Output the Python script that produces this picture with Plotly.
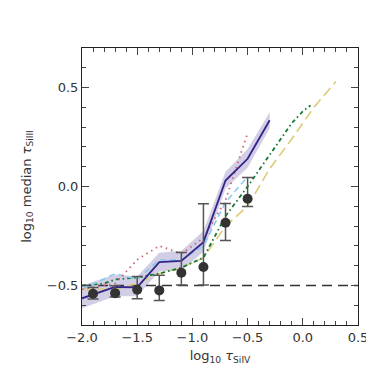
import plotly.graph_objects as go

# Data points with error bars
pts_x = [-1.9, -1.7, -1.5, -1.3, -1.1, -0.9, -0.7, -0.5]
pts_y = [-0.542, -0.539, -0.522, -0.525, -0.436, -0.407, -0.183, -0.062]
pts_hi = [-0.510, -0.502, -0.455, -0.449, -0.333, -0.087, -0.086, 0.045]
pts_lo = [-0.569, -0.559, -0.567, -0.576, -0.498, -0.498, -0.273, -0.101]

# Main model (solid) with band
main_x = [-2.0, -1.7, -1.5, -1.3, -1.1, -0.9, -0.7, -0.5, -0.3]
main_y = [-0.565, -0.508, -0.510, -0.382, -0.376, -0.281, 0.03, 0.14, 0.335]
band_hi = [-0.50, -0.445, -0.455, -0.335, -0.325, -0.225, 0.075, 0.19, 0.375]
band_lo = [-0.615, -0.555, -0.555, -0.43, -0.425, -0.33, -0.01, 0.095, 0.295]

# Other models
red_x = [-2.0, -1.7, -1.5, -1.3, -1.1, -0.9, -0.7, -0.5]
red_y = [-0.52, -0.49, -0.37, -0.30, -0.34, -0.26, -0.07, 0.27]

blue_x = [-2.0, -1.7, -1.5, -1.3, -1.1, -0.9, -0.7, -0.5]
blue_y = [-0.52, -0.44, -0.47, -0.37, -0.37, -0.30, -0.08, 0.05]

green_x = [-2.0, -1.8, -1.7, -1.5, -1.3, -1.1, -0.9, -0.7, -0.5, -0.3, -0.1, 0.0, 0.07]
green_y = [-0.50, -0.49, -0.47, -0.46, -0.44, -0.41, -0.36, -0.15, 0.0, 0.16, 0.32, 0.38, 0.41]

tan_x = [-2.0, -1.7, -1.5, -1.3, -1.1, -0.9, -0.7, -0.5, -0.3, -0.1, 0.1, 0.3]
tan_y = [-0.52, -0.52, -0.49, -0.44, -0.41, -0.36, -0.20, -0.10, 0.09, 0.24, 0.40, 0.53]

ref_x = [-2.0, 0.5]
ref_y = [-0.5, -0.5]

fig = go.Figure()

fig.add_trace(go.Scatter(x=ref_x, y=ref_y, mode="lines",
                         line=dict(color="#333333", width=1.5, dash="10px,6px"),
                         showlegend=False))
fig.add_trace(go.Scatter(x=main_x, y=band_hi, mode="lines", line=dict(width=0),
                         showlegend=False, hoverinfo="skip"))
fig.add_trace(go.Scatter(x=main_x, y=band_lo, mode="lines", line=dict(width=0),
                         fill="tonexty", fillcolor="rgba(51,34,136,0.22)",
                         showlegend=False, hoverinfo="skip"))
fig.add_trace(go.Scatter(x=tan_x, y=tan_y, mode="lines",
                         line=dict(color="#DDCC77", width=1.6, dash="10px,5px"),
                         showlegend=False))
fig.add_trace(go.Scatter(x=green_x, y=green_y, mode="lines",
                         line=dict(color="#117733", width=1.8, dash="4px,3px,1.5px,3px"),
                         showlegend=False))
fig.add_trace(go.Scatter(x=blue_x, y=blue_y, mode="lines",
                         line=dict(color="#88CCEE", width=1.6, dash="6px,4px"),
                         showlegend=False))
fig.add_trace(go.Scatter(x=red_x, y=red_y, mode="lines",
                         line=dict(color="#CC6677", width=1.8, dash="1.5px,4px"),
                         showlegend=False))
fig.add_trace(go.Scatter(x=main_x, y=main_y, mode="lines",
                         line=dict(color="#332288", width=1.8),
                         showlegend=False))
fig.add_trace(go.Scatter(
    x=pts_x, y=pts_y, mode="markers",
    marker=dict(color="#333333", size=10),
    error_y=dict(type="data", symmetric=False,
                 array=[h - y for h, y in zip(pts_hi, pts_y)],
                 arrayminus=[y - l for l, y in zip(pts_lo, pts_y)],
                 color="#555555", thickness=1.5, width=5.5),
    showlegend=False))

axis_common = dict(
    showline=True, linecolor="#222222", linewidth=1, mirror="ticks",
    ticks="inside", ticklen=7, tickwidth=1, tickcolor="#444444",
    showgrid=False, zeroline=False, automargin=False,
    tickfont=dict(family="DejaVu Sans", size=13, color="#333333"),
)

fig.update_xaxes(range=[-2.0, 0.5], tickvals=[-2.0, -1.5, -1.0, -0.5, 0.0, 0.5],
                 ticktext=["−2.0", "−1.5", "−1.0", "−0.5", "0.0", "0.5"],
                 minor=dict(dtick=0.1, ticks="inside", ticklen=4, tickcolor="#444444"),
                 title=dict(text="log<sub>10</sub> <i>τ</i><sub>SiIV</sub>",
                            font=dict(family="DejaVu Sans", size=13, color="#333333"),
                            standoff=7),
                 **axis_common)
fig.update_yaxes(range=[-0.7, 0.7], tickvals=[-0.5, 0.0, 0.5],
                 ticktext=["−0.5", "0.0", "0.5"],
                 minor=dict(dtick=0.1, ticks="inside", ticklen=4, tickcolor="#444444"),
                 title=dict(text="log<sub>10</sub> median <i>τ</i><sub>SiIII</sub>",
                            font=dict(family="DejaVu Sans", size=13, color="#333333"),
                            standoff=12),
                 **axis_common)

fig.update_layout(width=374, height=374,
                  margin=dict(l=74, r=24, t=40, b=57),
                  paper_bgcolor="white", plot_bgcolor="white")

fig.write_html("out.html")
